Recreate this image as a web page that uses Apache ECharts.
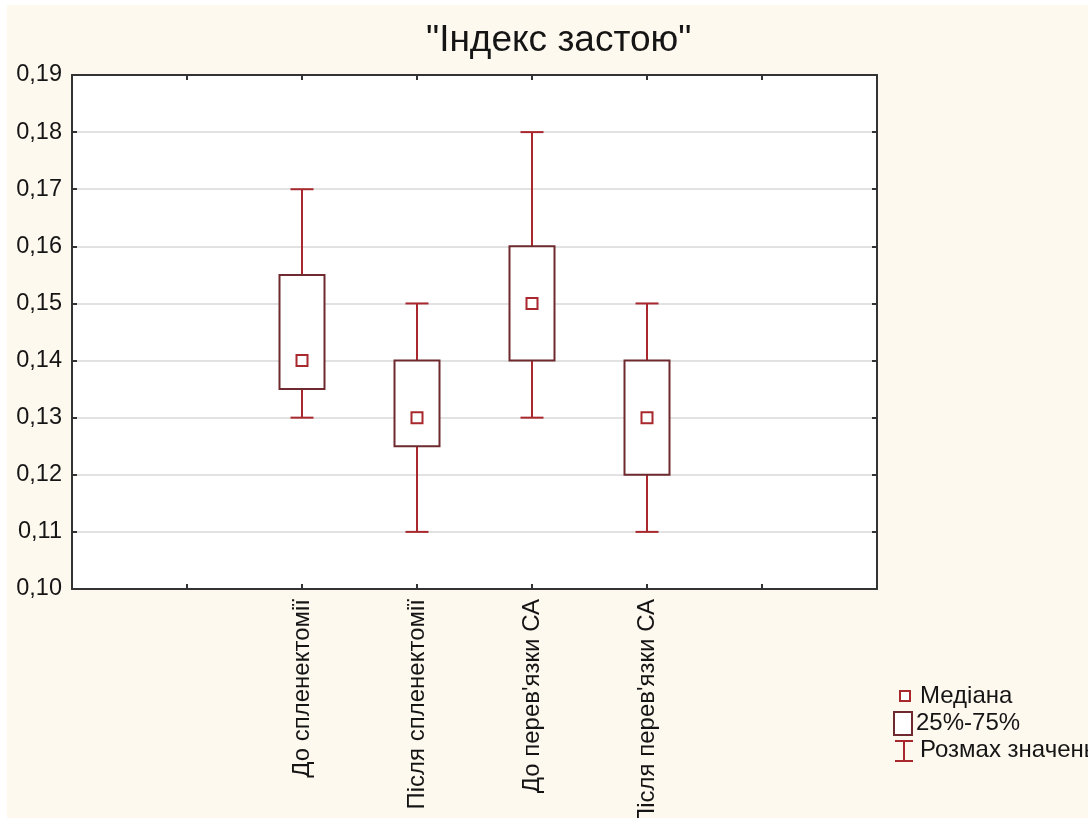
<!DOCTYPE html>
<html>
<head>
<meta charset="utf-8">
<script src="https://cdn.jsdelivr.net/npm/echarts@6/dist/echarts.min.js"></script>
<style>
  html, body { margin: 0; padding: 0; background: #ffffff; }
  #bg { position: absolute; left: 7px; top: 5px; width: 1081px; height: 813px; background: #fef9ef; }
  #main { position: absolute; left: 0; top: 0; width: 1088px; height: 818px; }
</style>
</head>
<body>
<div id="bg"></div>
<div id="main"></div>
<script>
// дані
var groups = ['До спленектомії', 'Після спленектомії', "До перев'язки СА", "Після перев'язки СА"];
var minVals = [0.13, 0.11, 0.13, 0.11];
var q1Vals  = [0.135, 0.125, 0.14, 0.12];
var medVals = [0.14, 0.13, 0.15, 0.13];
var q3Vals  = [0.155, 0.14, 0.16, 0.14];
var maxVals = [0.17, 0.15, 0.18, 0.15];
var yMin = 0.10, yMax = 0.19, yStep = 0.01;

// категорії осі: два порожні слоти з кожного боку
var axisCats = ['', ''].concat(groups, [' ', '  ']);

var whiskerColor = '#a8282e';
var boxColor = '#6e2a2e';
var textColor = '#151515';
var font = 'Liberation Sans, Arial, sans-serif';

var chart = echarts.init(document.getElementById('main'));

var data = groups.map(function (g, i) {
    return [i + 2, minVals[i], q1Vals[i], medVals[i], q3Vals[i], maxVals[i]];
});

function renderBox(params, api) {
    var x = api.value(0);
    var lo = api.coord([x, api.value(1)]);
    var q1 = api.coord([x, api.value(2)]);
    var md = api.coord([x, api.value(3)]);
    var q3 = api.coord([x, api.value(4)]);
    var hi = api.coord([x, api.value(5)]);
    var cx = Math.round(lo[0]);
    var boxW = 45, capW = 23, mk = 11;
    var wStyle = { stroke: whiskerColor, lineWidth: 2 };
    return {
        type: 'group',
        children: [
            { type: 'line', shape: { x1: cx, y1: hi[1], x2: cx, y2: q3[1] }, style: wStyle },
            { type: 'line', shape: { x1: cx, y1: q1[1], x2: cx, y2: lo[1] }, style: wStyle },
            { type: 'line', shape: { x1: cx - capW / 2, y1: hi[1], x2: cx + capW / 2, y2: hi[1] }, style: wStyle },
            { type: 'line', shape: { x1: cx - capW / 2, y1: lo[1], x2: cx + capW / 2, y2: lo[1] }, style: wStyle },
            { type: 'rect', shape: { x: cx - boxW / 2, y: q3[1], width: boxW, height: q1[1] - q3[1] },
              style: { fill: '#ffffff', stroke: boxColor, lineWidth: 2 } },
            { type: 'rect', shape: { x: cx - mk / 2, y: md[1] - mk / 2, width: mk, height: mk },
              style: { fill: '#ffffff', stroke: whiskerColor, lineWidth: 2 } }
        ]
    };
}

var tickStyle = { show: true, inside: true, length: 5, lineStyle: { color: '#333', width: 2 } };
var lineStyle = { show: true, lineStyle: { color: '#333', width: 2 } };

var option = {
    backgroundColor: 'transparent',
    animation: false,
    title: {
        text: '"Індекс застою"',
        left: 421,
        top: 17,
        textStyle: { fontFamily: font, fontSize: 37, fontWeight: 'normal', color: textColor }
    },
    grid: {
        left: 72, top: 75, right: 211, bottom: 229,
        outerBoundsMode: 'none',
        containLabel: false,
        show: true, backgroundColor: '#ffffff', borderWidth: 0
    },
    xAxis: [{
        type: 'category',
        data: axisCats,
        boundaryGap: false,
        position: 'bottom',
        axisLine: lineStyle,
        axisTick: Object.assign({ interval: 0 }, tickStyle),
        axisLabel: {
            interval: 0, rotate: 90, margin: 10,
            fontFamily: font, fontSize: 24, color: textColor
        },
        splitLine: { show: false }
    }, {
        type: 'category',
        data: axisCats,
        boundaryGap: false,
        position: 'top',
        axisLine: lineStyle,
        axisTick: Object.assign({ interval: 0 }, tickStyle),
        axisLabel: { show: false },
        splitLine: { show: false }
    }],
    yAxis: [{
        type: 'value',
        min: yMin, max: yMax, interval: yStep,
        position: 'left',
        axisLine: lineStyle,
        axisTick: tickStyle,
        axisLabel: {
            margin: 10, fontFamily: font, fontSize: 23.5, color: textColor,
            formatter: function (v) { return v.toFixed(2).replace('.', ','); }
        },
        splitLine: { show: true, lineStyle: { color: '#d9d9d9', width: 1.5 } }
    }, {
        type: 'value',
        min: yMin, max: yMax, interval: yStep,
        position: 'right',
        axisLine: lineStyle,
        axisTick: tickStyle,
        axisLabel: { show: false },
        splitLine: { show: false }
    }],
    series: [{
        type: 'custom',
        xAxisIndex: 0,
        yAxisIndex: 0,
        renderItem: renderBox,
        encode: { x: 0, y: [1, 2, 3, 4, 5] },
        data: data,
        z: 10
    }],
    graphic: [
        // легенда
        { type: 'rect', shape: { x: 900, y: 691, width: 10, height: 10 },
          style: { fill: '#ffffff', stroke: whiskerColor, lineWidth: 2 } },
        { type: 'text', x: 920, y: 696, style: { text: 'Медіана', font: '24px ' + font, fill: textColor, verticalAlign: 'middle' } },
        { type: 'rect', shape: { x: 894, y: 712, width: 18, height: 23 },
          style: { fill: '#ffffff', stroke: boxColor, lineWidth: 2 } },
        { type: 'text', x: 916, y: 723, style: { text: '25%-75%', font: '24px ' + font, fill: textColor, verticalAlign: 'middle' } },
        { type: 'line', shape: { x1: 904, y1: 741, x2: 904, y2: 761 }, style: { stroke: whiskerColor, lineWidth: 2 } },
        { type: 'line', shape: { x1: 895, y1: 741, x2: 913, y2: 741 }, style: { stroke: whiskerColor, lineWidth: 2 } },
        { type: 'line', shape: { x1: 895, y1: 761, x2: 913, y2: 761 }, style: { stroke: whiskerColor, lineWidth: 2 } },
        { type: 'text', x: 920, y: 750, style: { text: 'Розмах значень', font: '24px ' + font, fill: textColor, verticalAlign: 'middle' } }
    ]
};

chart.setOption(option);
</script>
</body>
</html>
